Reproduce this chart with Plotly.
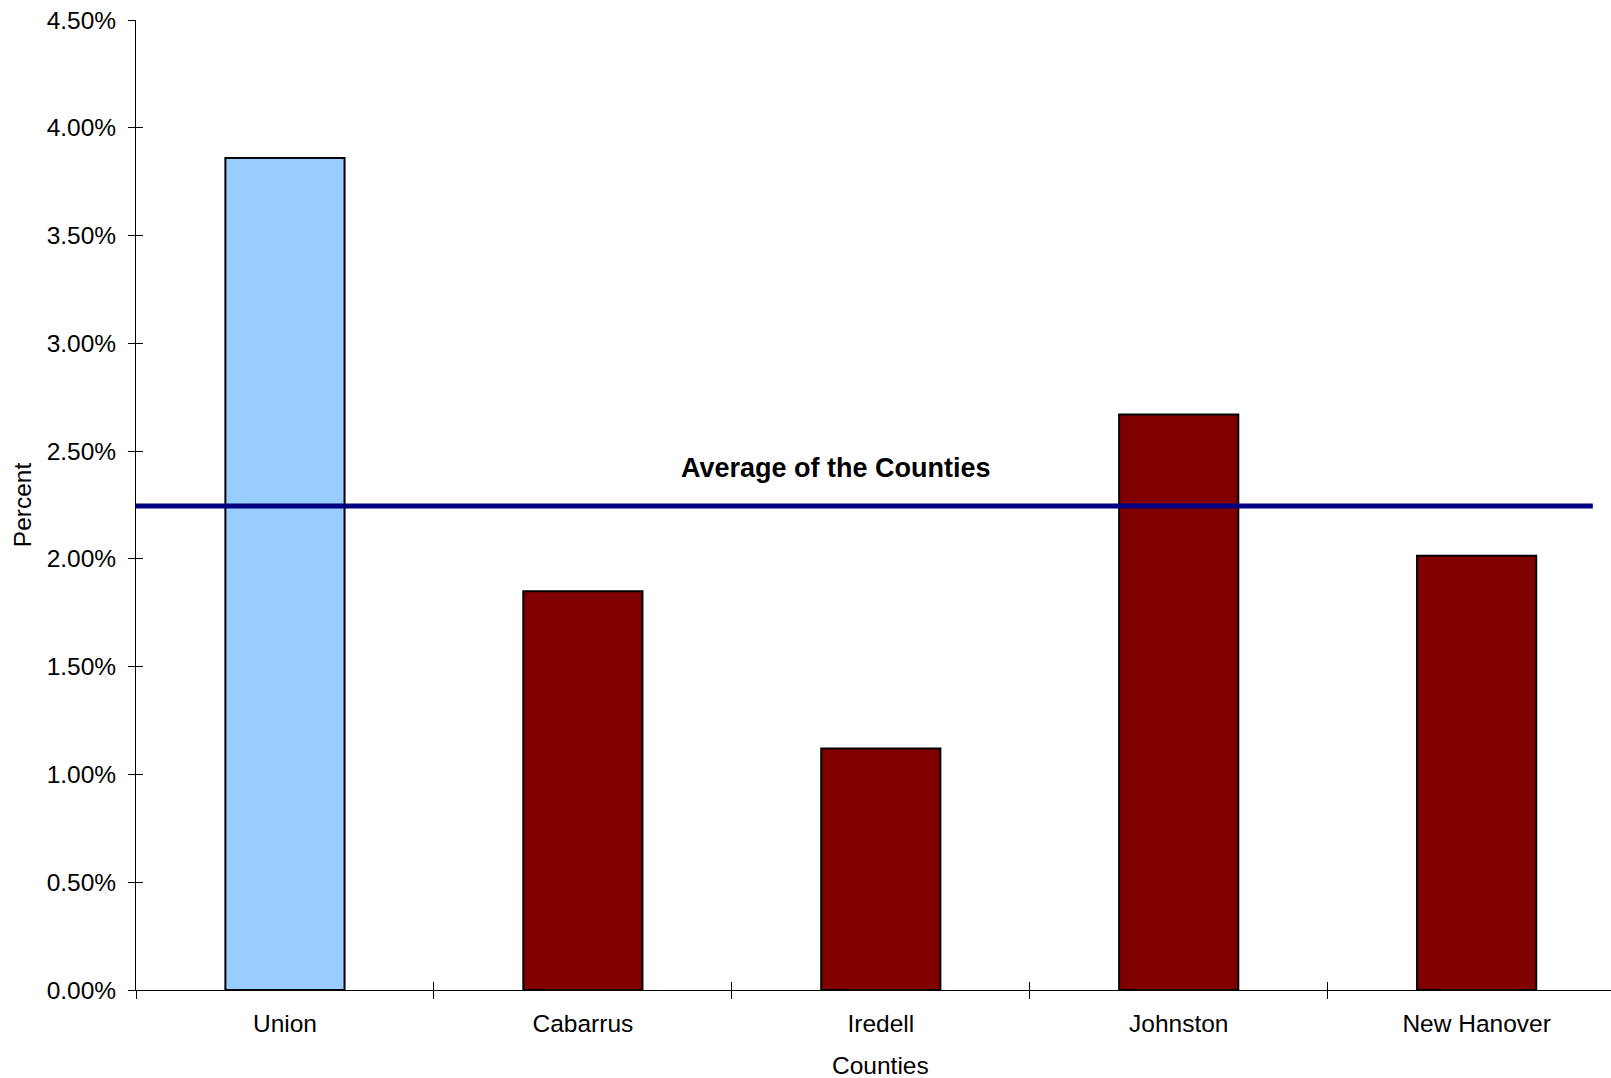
import plotly.graph_objects as go

counties = ["Union", "Cabarrus", "Iredell", "Johnston", "New Hanover"]
percent = [3.86, 1.85, 1.12, 2.67, 2.015]
bar_colors = ["#99CCFF", "#800000", "#800000", "#800000", "#800000"]
average_value = 2.245
average_label = "Average of the Counties"
y_ticks = [0, 0.5, 1.0, 1.5, 2.0, 2.5, 3.0, 3.5, 4.0, 4.5]
y_tick_text = [f"{v:.2f}%" for v in y_ticks]

FONT = "Arial, 'Liberation Sans', sans-serif"
FS = 24.5

fig = go.Figure()
fig.add_trace(go.Bar(
    x=counties, y=percent, width=0.4,
    marker=dict(color=bar_colors, line=dict(color="black", width=2)),
    hoverinfo="x+y", showlegend=False,
))
# invisible trace for overlay axes (inner half of crossing ticks)
fig.add_trace(go.Scatter(
    x=counties, y=percent, xaxis="x2", yaxis="y2", mode="markers",
    marker=dict(opacity=0), hoverinfo="skip", showlegend=False,
))

fig.add_shape(type="line", xref="x", yref="y", x0=-0.5, x1=4.39,
              y0=average_value, y1=average_value,
              line=dict(color="#000080", width=5))

fig.add_annotation(text="<b>" + average_label + "</b>", xref="x", yref="y",
                   x=1.85, y=2.42, showarrow=False,
                   font=dict(family=FONT, size=27, color="black"))
fig.add_annotation(text="Counties", xref="x", yref="paper",
                   x=2, y=-0.078, yanchor="middle", showarrow=False,
                   font=dict(family=FONT, size=FS, color="black"))

xr = [-0.5, 4.451]
yr = [0, 4.5]
fig.update_layout(
    width=1611, height=1078,
    margin=dict(l=136, r=0, t=20, b=88),
    paper_bgcolor="white", plot_bgcolor="white",
    font=dict(family=FONT, size=FS, color="black"),
    xaxis=dict(type="category", categoryorder="array", categoryarray=counties,
               range=xr, tickson="boundaries", ticks="outside", ticklen=8,
               tickcolor="black", tickwidth=1, showline=True, linecolor="black",
               linewidth=1, showgrid=False, zeroline=False,
               ticklabelstandoff=12, tickfont=dict(size=FS)),
    yaxis=dict(range=yr, tickvals=y_ticks, ticktext=y_tick_text,
               ticks="outside", ticklen=7, tickcolor="black", tickwidth=1,
               showline=True, linecolor="black", linewidth=1,
               showgrid=False, zeroline=False, ticklabelstandoff=7,
               title=dict(text="Percent", standoff=8, font=dict(size=FS))),
    xaxis2=dict(type="category", categoryorder="array", categoryarray=counties,
                range=xr, overlaying="x", matches="x", tickson="boundaries",
                ticks="inside", ticklen=8, tickcolor="black", tickwidth=1,
                showticklabels=False, showline=False, showgrid=False,
                zeroline=False),
    yaxis2=dict(range=yr, tickvals=y_ticks, overlaying="y", ticks="inside",
                ticklen=7, tickcolor="black", tickwidth=1,
                showticklabels=False, showline=False, showgrid=False,
                zeroline=False),
)

fig.write_html("out.html")
